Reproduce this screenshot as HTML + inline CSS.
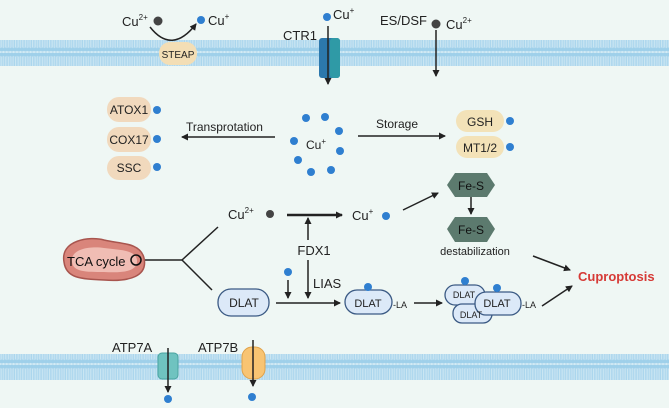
<!DOCTYPE html>
<html><head><meta charset="utf-8"><style>
html,body{margin:0;padding:0;background:#eff7f4;}
svg{display:block;font-family:"Liberation Sans",sans-serif;}
</style></head><body>
<svg width="669" height="408" viewBox="0 0 669 408" xmlns="http://www.w3.org/2000/svg">
<defs>
<pattern id="mem" x="0" y="0" width="3.4" height="26" patternUnits="userSpaceOnUse">
<rect width="3.4" height="26" fill="#d7ecf5"/>
<circle cx="1.7" cy="2.5" r="2" fill="#9fd0ea"/>
<circle cx="1.7" cy="23.5" r="2" fill="#9fd0ea"/>
<rect x="0.4" y="4" width="1" height="18" fill="#a6d3ec"/>
<rect x="2.2" y="4" width="1" height="18" fill="#a6d3ec"/>
</pattern>
<marker id="ah" markerWidth="8" markerHeight="8" refX="6" refY="4" orient="auto" markerUnits="userSpaceOnUse">
<path d="M0,0.5 L7,4 L0,7.5 Z" fill="#222"/></marker>
</defs>
<rect width="669" height="408" fill="#eff7f4"/>
<rect x="0" y="40" width="669" height="26" fill="url(#mem)"/>
<rect x="0" y="354" width="669" height="26" fill="url(#mem)"/>

<g stroke="#222" stroke-width="1.5" fill="none">
<path d="M150,27 Q172,55 196,24" marker-end="url(#ah)"/>
<line x1="436" y1="30" x2="436" y2="76" marker-end="url(#ah)"/>
<line x1="275" y1="137" x2="182" y2="137" marker-end="url(#ah)"/>
<line x1="358" y1="136" x2="445" y2="136" marker-end="url(#ah)"/>
<line x1="471" y1="197" x2="471" y2="214" marker-end="url(#ah)"/>
<line x1="287" y1="215" x2="342" y2="215" stroke-width="2.5" marker-end="url(#ah)"/>
<line x1="403" y1="210" x2="438" y2="193" marker-end="url(#ah)"/>
<line x1="308" y1="240" x2="308" y2="218" marker-end="url(#ah)"/>
<line x1="308" y1="260" x2="308" y2="298" marker-end="url(#ah)"/>
<line x1="288" y1="280" x2="288" y2="298" marker-end="url(#ah)"/>
<line x1="140" y1="260" x2="182" y2="260"/>
<line x1="182" y1="260" x2="218" y2="227"/>
<line x1="182" y1="260" x2="212" y2="290"/>
<line x1="276" y1="303" x2="340" y2="303" marker-end="url(#ah)"/>
<line x1="414" y1="303" x2="442" y2="303" marker-end="url(#ah)"/>
<line x1="542" y1="306" x2="572" y2="286" marker-end="url(#ah)"/>
<line x1="533" y1="256" x2="570" y2="270" marker-end="url(#ah)"/>
</g>

<rect x="159" y="42" width="38" height="23" rx="11" fill="#f3deb5"/>
<text x="178" y="58" font-size="10" text-anchor="middle" fill="#222">STEAP</text>
<text x="122" y="26" font-size="13" fill="#222">Cu<tspan font-size="8" dy="-6">2+</tspan></text>
<circle cx="158" cy="21" r="4.5" fill="#444"/>
<circle cx="201" cy="20" r="4" fill="#2f7fd0"/>
<text x="208" y="25" font-size="13" fill="#222">Cu<tspan font-size="8" dy="-6">+</tspan></text>

<text x="283" y="40" font-size="13" fill="#222">CTR1</text>
<rect x="319" y="38" width="21" height="40" rx="3" fill="#2c78ad"/>
<rect x="330" y="38" width="10" height="40" rx="3" fill="#2f9aa6"/>
<circle cx="327" cy="17" r="4" fill="#2f7fd0"/>
<text x="333" y="19" font-size="13" fill="#222">Cu<tspan font-size="8" dy="-6">+</tspan></text>
<line x1="328" y1="26" x2="328" y2="84" stroke="#222" stroke-width="1.5" marker-end="url(#ah)"/>

<text x="380" y="25" font-size="13" fill="#222">ES/DSF</text>
<circle cx="436" cy="24" r="4.5" fill="#444"/>
<text x="446" y="29" font-size="13" fill="#222">Cu<tspan font-size="8" dy="-6">2+</tspan></text>

<rect x="107" y="97" width="44" height="25" rx="12" fill="#f1d9bd"/>
<text x="129" y="114" font-size="12" text-anchor="middle" fill="#222">ATOX1</text>
<circle cx="157" cy="110" r="4" fill="#2f7fd0"/>
<rect x="107" y="127" width="44" height="25" rx="12" fill="#f1d9bd"/>
<text x="129" y="144" font-size="12" text-anchor="middle" fill="#222">COX17</text>
<circle cx="157" cy="139" r="4" fill="#2f7fd0"/>
<rect x="107" y="156" width="44" height="24" rx="12" fill="#f1d9bd"/>
<text x="129" y="172" font-size="12" text-anchor="middle" fill="#222">SSC</text>
<circle cx="157" cy="167" r="4" fill="#2f7fd0"/>
<text x="186" y="131" font-size="12" fill="#222">Transprotation</text>

<g fill="#2f7fd0">
<circle cx="306" cy="118" r="4"/><circle cx="325" cy="117" r="4"/>
<circle cx="339" cy="131" r="4"/><circle cx="340" cy="151" r="4"/>
<circle cx="331" cy="170" r="4"/><circle cx="311" cy="172" r="4"/>
<circle cx="298" cy="160" r="4"/><circle cx="294" cy="141" r="4"/>
</g>
<text x="306" y="149" font-size="12" fill="#222">Cu<tspan font-size="8" dy="-5">+</tspan></text>
<text x="376" y="128" font-size="12" fill="#222">Storage</text>

<rect x="456" y="110" width="48" height="22" rx="11" fill="#f3e2b8"/>
<text x="480" y="126" font-size="12" text-anchor="middle" fill="#222">GSH</text>
<circle cx="510" cy="121" r="4" fill="#2f7fd0"/>
<rect x="456" y="136" width="48" height="22" rx="11" fill="#f3e2b8"/>
<text x="480" y="152" font-size="12" text-anchor="middle" fill="#222">MT1/2</text>
<circle cx="510" cy="147" r="4" fill="#2f7fd0"/>

<polygon points="455,173 487,173 495,185 487,197 455,197 447,185" fill="#5c7a6e"/>
<text x="471" y="190" font-size="12" text-anchor="middle" fill="#111">Fe-S</text>
<polygon points="455,217 487,217 495,229 487,242 455,242 447,229" fill="#5c7a6e"/>
<text x="471" y="234" font-size="12" text-anchor="middle" fill="#111">Fe-S</text>
<text x="475" y="255" font-size="11" text-anchor="middle" fill="#222">destabilization</text>

<text x="228" y="219" font-size="13" fill="#222">Cu<tspan font-size="8" dy="-6">2+</tspan></text>
<circle cx="270" cy="214" r="4" fill="#444"/>
<text x="352" y="220" font-size="13" fill="#222">Cu<tspan font-size="8" dy="-6">+</tspan></text>
<circle cx="386" cy="216" r="4" fill="#2f7fd0"/>
<text x="314" y="255" font-size="13" text-anchor="middle" fill="#222">FDX1</text>
<text x="313" y="288" font-size="13" fill="#222">LIAS</text>
<circle cx="288" cy="272" r="4" fill="#2f7fd0"/>

<path d="M64,262 C60,240 90,236 104,240 C120,244 140,242 144,258 C148,276 130,282 104,280 C80,279 66,278 64,262 Z" fill="#d9857b" stroke="#a8554e" stroke-width="1.5"/>
<path d="M72,262 C70,248 92,246 104,248 C120,250 136,250 137,260 C138,272 122,273 104,272 C86,272 73,272 72,262 Z" fill="#f0bdb4"/>
<text x="67" y="266" font-size="13" fill="#111">TCA cycle</text>
<circle cx="136" cy="260" r="5" fill="none" stroke="#111" stroke-width="1.5"/>

<g stroke="#3b5a84" stroke-width="1.3" fill="#dce9f8">
<rect x="218" y="289" width="51" height="27" rx="13"/>
<rect x="345" y="290" width="47" height="24" rx="12"/>
<rect x="445" y="285" width="40" height="20" rx="10"/>
<rect x="453" y="304" width="39" height="19" rx="9"/>
<rect x="475" y="292" width="46" height="23" rx="11"/>
</g>
<g font-size="11" fill="#222" text-anchor="middle">
<text x="244" y="307" font-size="12">DLAT</text>
<text x="368" y="307">DLAT</text>
<text x="464" y="298" font-size="9">DLAT</text>
<text x="471" y="318" font-size="9">DLAT</text>
<text x="497" y="307">DLAT</text>
</g>
<text x="393" y="308" font-size="9" fill="#222">-LA</text>
<text x="522" y="308" font-size="9" fill="#222">-LA</text>
<circle cx="368" cy="287" r="4" fill="#2f7fd0"/>
<circle cx="465" cy="281" r="4" fill="#2f7fd0"/>
<circle cx="497" cy="288" r="4" fill="#2f7fd0"/>
<text x="578" y="281" font-size="13" font-weight="bold" fill="#d63a36">Cuproptosis</text>

<text x="112" y="352" font-size="13" fill="#222">ATP7A</text>
<rect x="158" y="353" width="20" height="26" rx="4" fill="#6fc3c0" stroke="#4aa3a0"/>
<line x1="168" y1="348" x2="168" y2="392" stroke="#222" stroke-width="1.5" marker-end="url(#ah)"/>
<circle cx="168" cy="399" r="4" fill="#2f7fd0"/>
<text x="198" y="352" font-size="13" fill="#222">ATP7B</text>
<rect x="242" y="347" width="23" height="32" rx="10" fill="#f8c472" stroke="#e0a24a"/>
<line x1="253" y1="340" x2="253" y2="386" stroke="#222" stroke-width="1.5" marker-end="url(#ah)"/>
<circle cx="252" cy="397" r="4" fill="#2f7fd0"/>
</svg>
</body></html>
